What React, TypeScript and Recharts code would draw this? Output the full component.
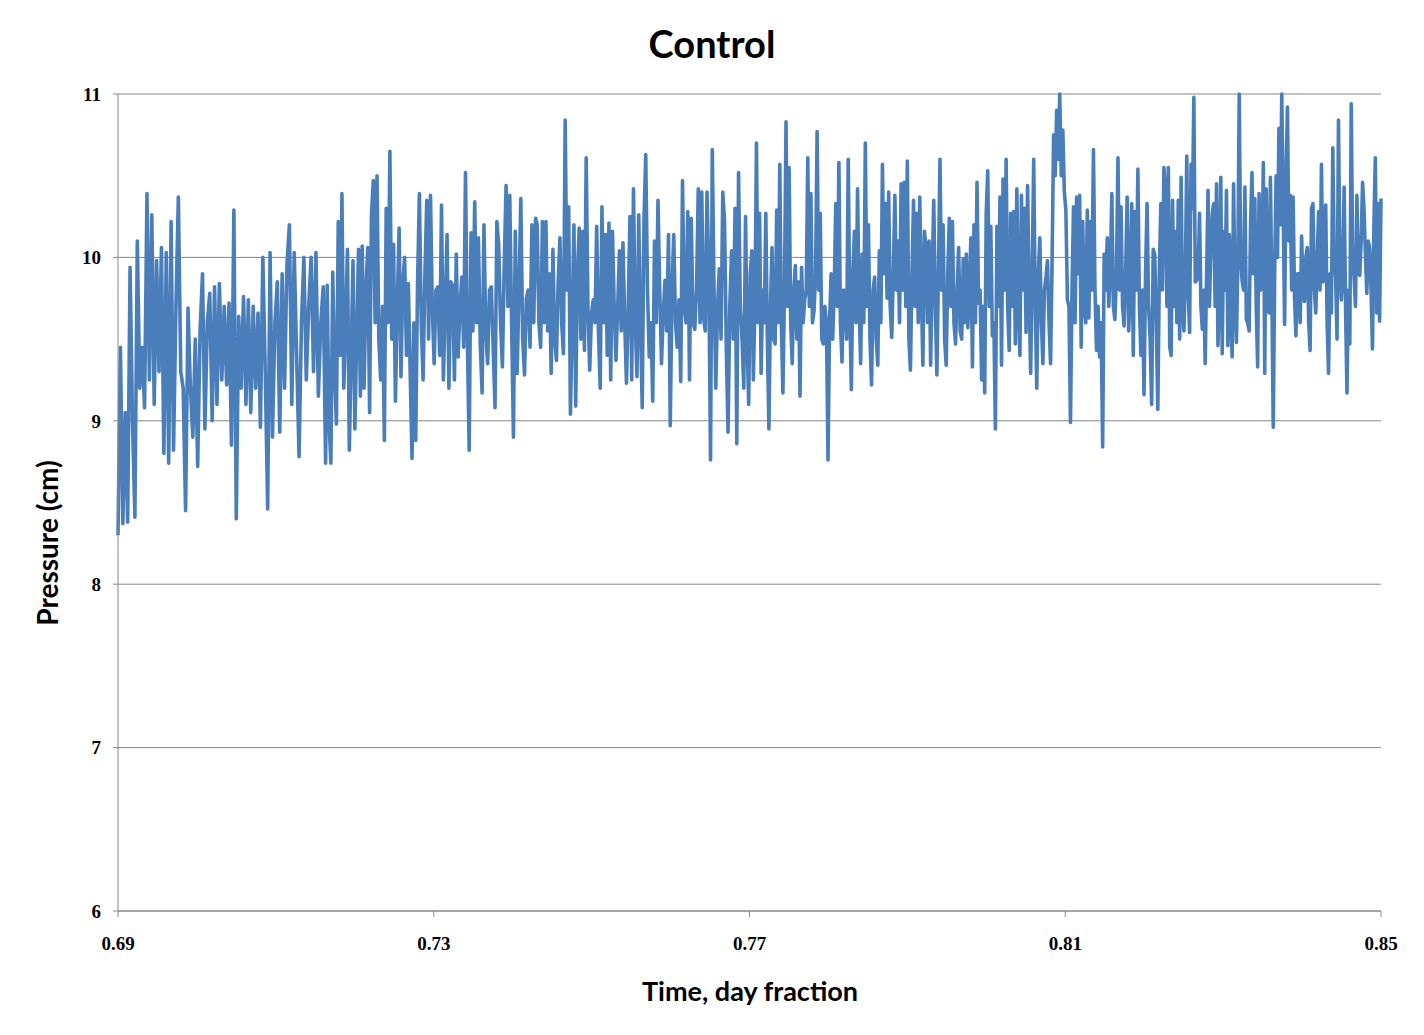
import { LineChart, Line, XAxis, YAxis, CartesianGrid } from "recharts"

// pressure readings in six time slices
const slice1 = [
  8.3, 9.45, 8.37, 9.05, 8.38, 9.94, 9.0, 8.41, 10.1, 9.2, 9.45, 9.08, 10.39, 9.25, 10.26, 9.1, 9.98, 9.3,
  10.06, 8.8, 10.03, 8.74, 10.22, 8.82, 9.69, 10.37, 9.3, 9.2, 8.45, 9.69, 9.2, 8.9, 9.5, 8.72, 9.55, 9.9,
  8.95, 9.6, 9.78, 9.0, 9.82, 9.1, 9.84, 9.25, 9.7, 9.22, 9.72, 8.85, 10.29, 8.4, 9.64, 9.2, 9.76, 9.1,
  9.74, 9.05, 9.7, 9.2, 9.66, 8.96, 10.0, 9.3, 8.46, 10.03, 8.9, 9.6, 9.85, 8.93, 9.9, 9.2, 9.96, 10.2,
  9.1, 10.03, 9.4, 8.78, 9.6, 10.0, 9.25, 9.7, 10.0, 9.3, 10.03, 9.15, 9.6, 9.82, 8.74,
]
const slice2 = [
  9.83, 9.0, 8.74, 9.91, 9.3, 8.98, 10.22, 9.4, 10.39, 9.2, 9.6, 10.05, 8.82, 9.4, 9.98, 8.95, 9.5, 10.05,
  9.15, 10.07, 9.2, 9.8, 10.06, 9.05, 10.26, 10.47, 9.6, 10.5, 9.5, 9.25, 9.7, 8.88, 10.3, 9.6, 10.65, 9.5,
  10.08, 9.12, 9.7, 10.18, 9.27, 9.85, 10.0, 9.4, 9.84, 9.3, 8.77, 9.6, 8.88, 9.84, 10.39, 9.6, 9.25, 9.9,
  10.35, 9.5, 10.38, 9.7, 9.35, 9.8, 9.82, 9.4, 10.32, 9.25, 9.7, 10.14, 9.2, 9.85, 9.83, 9.25, 10.02, 9.39,
  9.7, 9.88, 9.45, 10.52, 9.5, 8.82, 10.15, 9.55, 10.34, 9.6, 10.12, 9.47, 9.17, 10.2, 9.55, 9.35, 9.8,
  9.82, 9.45, 9.08, 10.22, 10.08, 9.6, 9.33, 9.95, 10.44, 9.7, 10.38, 9.6, 8.9, 10.16, 9.29, 9.8, 10.36,
  9.5, 9.28, 9.75, 9.8, 9.45, 10.2, 9.6, 10.24,
]
const slice3 = [
  10.2, 9.6, 9.45, 10.22, 9.6, 10.22, 9.55, 9.9, 9.29, 10.05, 9.5, 9.37, 9.85, 10.12, 9.6, 9.41, 10.84, 9.8,
  10.31, 9.04, 9.6, 10.2, 9.09, 9.9, 10.18, 9.5, 10.16, 9.43, 10.61, 9.7, 9.31, 9.65, 9.74, 9.6, 10.19, 9.55,
  9.2, 10.31, 9.6, 10.14, 9.4, 10.21, 9.25, 10.16, 9.7, 9.37, 9.7, 10.04, 9.55, 10.09, 9.6, 9.23, 9.7, 10.25,
  9.25, 10.42, 9.6, 9.27, 10.26, 9.6, 9.08, 10.23, 10.63, 9.8, 9.39, 9.6, 9.12, 10.1, 9.6, 10.35, 9.8, 9.35,
  9.65, 9.86, 9.55, 10.14, 8.97, 9.8, 10.14, 9.6, 9.45, 9.74, 9.24, 10.47, 9.7, 9.6, 10.28, 9.25, 10.24, 9.6,
  9.56, 9.8, 10.42, 9.6, 10.4, 9.63, 9.55, 10.4, 9.9, 8.76, 10.66, 9.8, 9.2, 9.7, 9.93, 9.5, 10.4, 10.22,
  9.45, 8.93, 9.7, 10.04, 9.5, 10.3, 8.86, 10.52, 9.7, 9.5, 9.2, 10.25,
]
const slice4 = [
  9.5, 9.1, 9.9, 10.04, 9.25, 9.7, 10.7, 9.6, 10.27, 9.29, 9.8, 9.6, 10.27, 9.5, 8.95, 9.7, 10.06, 9.5,
  9.47, 10.29, 9.6, 10.57, 9.6, 9.17, 9.8, 10.83, 9.7, 10.55, 9.6, 9.35, 9.8, 9.95, 9.5, 9.85, 9.15, 9.94,
  9.6, 9.74, 9.8, 10.61, 9.7, 10.39, 9.6, 9.67, 9.9, 10.77, 9.8, 10.27, 9.5, 9.47, 9.7, 9.6, 8.76, 9.6,
  9.9, 9.5, 9.8, 10.33, 9.7, 10.58, 9.6, 9.36, 9.8, 9.76, 9.5, 10.6, 9.7, 9.19, 9.9, 10.16, 9.6, 10.42,
  9.7, 9.35, 10.02, 9.6, 10.7, 9.7, 10.2, 9.5, 9.22, 9.8, 9.88, 9.5, 9.34, 10.04, 9.6, 10.57, 9.9, 10.33,
  9.75, 10.4, 9.7, 9.51, 9.9, 10.38, 9.8, 10.1, 9.6, 10.45, 9.8, 10.46, 9.7, 10.59, 9.5, 9.31, 9.9, 10.35,
  9.7, 10.27, 9.6, 10.37, 9.8, 9.34, 10.16, 10.06, 9.6, 10.1, 9.34, 9.9, 10.35, 9.7, 9.28, 9.9, 10.6, 9.8,
  10.2, 9.5, 9.34, 9.9, 10.24, 9.7, 10.22, 9.6, 9.47,
]
const slice5 = [
  9.8, 10.06, 9.55, 9.5, 9.99, 9.6, 10.02, 9.57, 9.8, 10.12, 9.33, 10.2, 9.6, 10.46, 9.72, 9.8, 9.25, 9.7,
  9.17, 10.27, 10.53, 9.7, 10.19, 9.52, 9.6, 8.95, 10.19, 9.7, 10.37, 9.34, 10.48, 9.8, 10.6, 9.7, 9.43,
  10.27, 9.7, 10.28, 9.47, 10.42, 9.7, 9.4, 10.38, 9.8, 10.3, 9.54, 10.44, 9.8, 9.29, 9.9, 10.6, 9.7, 9.2,
  9.9, 10.12, 9.6, 9.35, 9.8, 9.88, 9.98, 9.6, 9.35, 9.97, 10.75, 10.5, 10.9, 10.6, 11.0, 10.5, 10.78, 10.4,
  10.29, 9.74, 9.7, 8.99, 9.8, 10.31, 9.6, 10.37, 9.9, 10.38, 9.45, 10.22, 9.7, 9.6, 10.29, 9.63, 10.22, 9.8,
  10.66, 9.8, 9.43, 9.7, 9.39, 9.6, 8.84, 10.02, 9.8, 10.12, 9.7, 9.93, 10.39, 9.7, 9.62, 9.9, 10.61, 9.8,
  10.31, 9.7, 9.58, 9.9, 10.37, 9.55, 9.8, 10.33, 9.4, 10.28, 9.8, 10.54, 9.7, 9.4, 9.8, 9.16, 9.9, 10.33,
  9.7, 9.5, 9.1, 10.05, 10.02, 9.6, 9.07, 9.9, 10.33, 9.8, 10.55,
]
const slice6 = [
  10.4, 9.7, 10.55, 9.45, 9.4, 10.35, 9.7, 10.16, 9.6, 10.35, 9.5, 10.49, 9.7, 9.55, 9.9, 10.62, 9.8, 9.54,
  10.57, 10.3, 10.98, 9.85, 9.86, 9.9, 10.27, 9.7, 9.56, 9.8, 9.35, 9.9, 10.41, 9.7, 10.05, 10.27, 10.33,
  9.7, 10.45, 9.46, 9.8, 10.49, 9.41, 10.16, 9.8, 10.41, 9.46, 10.14, 9.7, 9.39, 10.45, 9.8, 9.48, 9.95,
  11.0, 10.0, 9.86, 9.8, 10.43, 9.62, 9.6, 9.55, 10.2, 10.52, 9.9, 10.36, 9.7, 9.33, 10.39, 9.8, 9.9, 10.58,
  9.29, 10.42, 9.7, 9.66, 10.49, 9.8, 8.96, 9.9, 10.5, 10.0, 10.79, 10.2, 11.0, 10.3, 9.59, 10.5, 10.92,
  10.1, 10.38, 9.8, 10.37, 9.76, 9.52, 9.9, 9.9, 9.6, 10.13, 9.8, 9.73, 10.0, 10.06, 9.6, 9.43, 10.3, 10.33,
  9.8, 9.66, 10.0, 10.28, 9.8, 10.57, 9.85, 9.88, 10.32, 9.6, 9.29, 9.9, 9.66, 10.67, 10.0, 9.88, 9.5,
  10.84, 10.0, 9.74, 9.9, 10.43, 9.7, 9.17, 9.8, 9.47, 10.94, 10.0, 9.88, 9.7, 10.38, 9.9, 9.89, 10.1,
  10.46, 10.3, 10.02, 9.78, 10.1, 10.06, 9.8, 9.44, 10.2, 10.61, 9.66, 10.33, 9.61, 10.36,
]

// first and last sample time of each slice (day fraction)
const sliceStarts = [0.69, 0.7165, 0.7431, 0.7697, 0.7963, 0.8227]
const sliceEnds = [0.7163, 0.7429, 0.7695, 0.7961, 0.8225, 0.85]
const slices = [slice1, slice2, slice3, slice4, slice5, slice6]

const xTicks = [0.69, 0.73, 0.77, 0.81, 0.85]
const yTicks = [6, 7, 8, 9, 10, 11]

const data = slices.flatMap((vals, s) =>
  vals.map((p, i) => ({
    t: sliceStarts[s] + ((sliceEnds[s] - sliceStarts[s]) * i) / (vals.length - 1),
    p,
  }))
)

const tickStyle = {
  fontFamily: "'Liberation Serif', 'Times New Roman', serif",
  fontWeight: 700,
  fontSize: 19,
  fill: "#000",
}

const titleFont = "Lato, 'Open Sans', sans-serif"

export default function App() {
  return (
    <div style={{ position: "absolute", left: 0, top: 0, width: 1424, height: 1035, background: "#fff" }}>
      <div
        style={{
          position: "absolute",
          top: 20,
          left: 0,
          width: 1424,
          textAlign: "center",
          fontFamily: titleFont,
          fontWeight: 700,
          fontSize: 38,
          color: "#000",
        }}
      >
        Control
      </div>
      <div
        style={{
          position: "absolute",
          top: 974,
          left: 550,
          width: 400,
          textAlign: "center",
          fontFamily: titleFont,
          fontWeight: 700,
          fontSize: 27,
          color: "#000",
        }}
      >
        Time, day fraction
      </div>
      <div
        style={{
          position: "absolute",
          top: 526,
          left: -153,
          width: 400,
          textAlign: "center",
          transform: "rotate(-90deg)",
          fontFamily: titleFont,
          fontWeight: 700,
          fontSize: 28,
          color: "#000",
        }}
      >
        Pressure (cm)
      </div>
      <LineChart width={1424} height={1035} data={data} margin={{ top: 94, right: 43, bottom: 94, left: 58 }}>
        <CartesianGrid vertical={false} stroke="#888" strokeWidth={1} />
        <XAxis
          type="number"
          dataKey="t"
          domain={[0.69, 0.85]}
          ticks={xTicks}
          tickFormatter={(v) => v.toFixed(2)}
          height={30}
          tickSize={6}
          tickMargin={20}
          stroke="#888"
          tick={tickStyle}
          interval={0}
        />
        <YAxis
          type="number"
          domain={[6, 11]}
          ticks={yTicks}
          width={60}
          tickSize={5}
          tickMargin={12}
          stroke="#888"
          tick={tickStyle}
          interval={0}
        />
        <Line
          type="linear"
          dataKey="p"
          stroke="#4a7ebb"
          strokeWidth={3.6}
          dot={false}
          isAnimationActive={false}
          strokeLinejoin="round"
        />
      </LineChart>
    </div>
  )
}
